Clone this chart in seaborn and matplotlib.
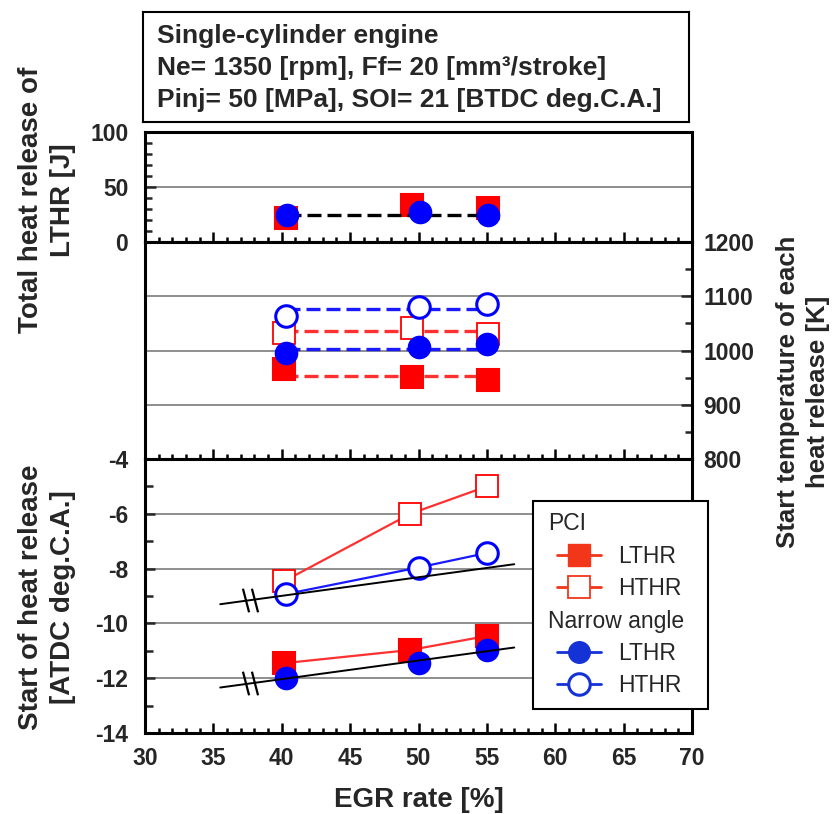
import numpy as np
import pandas as pd
import matplotlib
matplotlib.use("Agg")
import matplotlib.pyplot as plt
import seaborn as sns
from matplotlib.ticker import MultipleLocator
from matplotlib.lines import Line2D
from matplotlib.path import Path
from matplotlib.offsetbox import DrawingArea, HPacker

# ---------------- data ----------------
# top panel: total heat release of LTHR [J]
pci_x_total = [40.3, 49.5, 55.1]
pci_lthr_total = [21.5, 33.6, 31.2]
na_x_total = [40.4, 50.1, 55.1]
na_lthr_total = [24.2, 27.6, 24.2]
total_mean_x = [40.4, 55.1]
total_mean_y = [24.4, 24.4]

# middle panel: start temperature of each heat release [K]
pci_x_temp = [40.2, 49.5, 55.1]
pci_lthr_temp = [966, 952, 946]
pci_hthr_temp = [1033, 1042, 1031]
na_x_temp = [40.3, 50.0, 55.0]
na_lthr_temp = [996, 1006, 1012]
na_hthr_temp = [1063, 1080, 1085]
pci_lthr_temp_mean = [953, 953]
pci_hthr_temp_mean = [1036, 1036]
na_lthr_temp_mean = [1003, 1003]
na_hthr_temp_mean = [1076, 1076]

# bottom panel: start of heat release [ATDC deg.C.A.]
pci_x_soh = [40.2, 49.4, 55.0]
pci_lthr_soh = [-11.45, -10.97, -10.46]
pci_hthr_soh = [-8.45, -6.0, -5.0]
na_x_soh = [40.3, 50.0, 55.0]
na_lthr_soh = [-12.0, -11.45, -10.97]
na_hthr_soh = [-8.93, -7.96, -7.43]
trend_x = [35.5, 57.0]
trend_hthr = [-9.3, -7.84]
trend_lthr = [-12.34, -10.88]
break_x = 37.7

title_lines = ["Single-cylinder engine",
               "Ne= 1350 [rpm], Ff= 20 [mm\u00b3/stroke]",
               "Pinj= 50 [MPa], SOI= 21 [BTDC deg.C.A.]"]
legend_labels = ["PCI", "LTHR", "HTHR", "Narrow angle", "LTHR", "HTHR"]

RED = "#ff0000"
RED_L = "#ff3030"
BLUE = "#0000ff"
BLUE_L = "#1a1aff"
LEG_RED = "#f2361a"
LEG_BLUE = "#1432d6"

# ---------------- style ----------------
sns.set_theme(style="white")
plt.rcParams["font.family"] = ["Liberation Sans", "DejaVu Sans"]
plt.rcParams["axes.edgecolor"] = "black"
plt.rcParams["axes.linewidth"] = 2.2
plt.rcParams["axes.unicode_minus"] = False

TICK_FS = 16.5
LAB_FS = 20

fig = plt.figure(figsize=(8.4, 8.14), dpi=100)
W, H = 840.0, 814.0


def add_ax(top_px, bot_px):
    return fig.add_axes([145 / W, 1 - bot_px / H, (692 - 145) / W, (bot_px - top_px) / H])


ax1 = add_ax(132, 242)
ax2 = add_ax(242, 459)
ax3 = add_ax(459, 733)

for ax in (ax1, ax2, ax3):
    ax.set_xlim(30, 70)
    ax.xaxis.set_major_locator(MultipleLocator(5))
    ax.xaxis.set_minor_locator(MultipleLocator(1))
    ax.tick_params(axis="x", which="both", direction="in", bottom=True, top=False,
                   labelbottom=False, width=1.8, color="black")
    ax.tick_params(axis="x", which="major", length=7)
    ax.tick_params(axis="x", which="minor", length=3.6)
    ax.set_facecolor("white")
    for s in ax.spines.values():
        s.set_linewidth(2.2)
        s.set_color("black")
    ax.set_xlabel("")
    ax.set_ylabel("")

# top panel axes
ax1.set_ylim(0, 100)
ax1.yaxis.set_major_locator(MultipleLocator(50))
ax1.yaxis.set_minor_locator(MultipleLocator(10))
ax1.tick_params(axis="y", which="both", direction="in", left=True, right=False,
                width=1.8, pad=12, labelsize=TICK_FS)
ax1.tick_params(axis="y", which="major", length=8)
ax1.tick_params(axis="y", which="minor", length=5)
for v in (50,):
    ax1.axhline(v, color="#707070", lw=1.1, zorder=0.5)

# middle panel axes (right scale)
ax2.set_ylim(800, 1200)
ax2.yaxis.tick_right()
ax2.yaxis.set_major_locator(MultipleLocator(100))
ax2.yaxis.set_minor_locator(MultipleLocator(50))
ax2.tick_params(axis="y", which="both", direction="in", left=False, right=True,
                labelleft=False, labelright=True, width=1.8, pad=8, labelsize=TICK_FS)
ax2.tick_params(axis="y", which="major", length=8)
ax2.tick_params(axis="y", which="minor", length=5)
for v in (900, 1000, 1100):
    ax2.axhline(v, color="#707070", lw=1.1, zorder=0.5)

# bottom panel axes
ax3.set_ylim(-14, -4)
ax3.yaxis.set_major_locator(MultipleLocator(2))
ax3.yaxis.set_minor_locator(MultipleLocator(1))
ax3.tick_params(axis="y", which="both", direction="in", left=True, right=False,
                width=1.8, pad=12, labelsize=TICK_FS)
ax3.tick_params(axis="y", which="major", length=7)
ax3.tick_params(axis="y", which="minor", length=6)
ax3.tick_params(axis="x", labelbottom=True, labelsize=TICK_FS, pad=10)
for v in (-6, -8, -10, -12):
    ax3.axhline(v, color="#707070", lw=1.1, zorder=0.5)

for ax in (ax1, ax2, ax3):
    for lab in ax.get_xticklabels() + ax.get_yticklabels():
        lab.set_fontweight("bold")

MS = 15.5


def pts(ax, x, y, marker, fc, ec, mew=1.5, z=3):
    sns.lineplot(x=x, y=y, ax=ax, linestyle="none", marker=marker, markersize=MS,
                 markerfacecolor=fc, markeredgecolor=ec, markeredgewidth=mew,
                 estimator=None, sort=False, legend=False, zorder=z)


def line(ax, x, y, color, lw=2.0, dashed=False, z=2):
    kw = dict(dashes=(4.2, 1.8)) if dashed else {}
    sns.lineplot(x=x, y=y, ax=ax, color=color, lw=lw, estimator=None, sort=False,
                 legend=False, zorder=z, **kw)


# ---- top panel ----
pts(ax1, pci_x_total, pci_lthr_total, "s", RED, RED)
line(ax1, total_mean_x, total_mean_y, "black", lw=2.4, dashed=True, z=3.5)
pts(ax1, na_x_total, na_lthr_total, "o", BLUE, BLUE, z=4)

# ---- middle panel ----
line(ax2, [na_x_temp[0], na_x_temp[-1]], na_hthr_temp_mean, BLUE_L, lw=2.4, dashed=True)
line(ax2, [pci_x_temp[0], pci_x_temp[-1]], pci_hthr_temp_mean, RED_L, lw=2.4, dashed=True)
line(ax2, [na_x_temp[0], na_x_temp[-1]], na_lthr_temp_mean, BLUE_L, lw=2.4, dashed=True)
line(ax2, [pci_x_temp[0], pci_x_temp[-1]], pci_lthr_temp_mean, RED_L, lw=2.4, dashed=True)
pts(ax2, pci_x_temp, pci_hthr_temp, "s", "white", RED, mew=1.3)
pts(ax2, na_x_temp, na_hthr_temp, "o", "white", BLUE, mew=2.2)
pts(ax2, pci_x_temp, pci_lthr_temp, "s", RED, RED)
pts(ax2, na_x_temp, na_lthr_temp, "o", BLUE, BLUE)

# ---- bottom panel ----
line(ax3, pci_x_soh, pci_hthr_soh, RED_L, lw=1.6)
line(ax3, na_x_soh, na_hthr_soh, BLUE_L, lw=1.6)
line(ax3, pci_x_soh, pci_lthr_soh, RED_L, lw=1.6)
pts(ax3, pci_x_soh, pci_hthr_soh, "s", "white", RED, mew=1.3)
pts(ax3, na_x_soh, na_hthr_soh, "o", "white", BLUE, mew=2.2)
pts(ax3, pci_x_soh, pci_lthr_soh, "s", RED, RED)
pts(ax3, na_x_soh, na_lthr_soh, "o", BLUE, BLUE)
line(ax3, trend_x, trend_hthr, "black", lw=1.4, z=5)
line(ax3, trend_x, trend_lthr, "black", lw=1.4, z=5)

brk = Path([(-0.32, 0.5), (-0.06, -0.5), (0.06, 0.5), (0.32, -0.5)],
           [Path.MOVETO, Path.LINETO, Path.MOVETO, Path.LINETO])
for ty in (trend_hthr, trend_lthr):
    by = float(np.interp(break_x, trend_x, ty))
    ax3.plot([break_x], [by], marker=brk, markersize=17, markeredgecolor="black",
             markerfacecolor="none", markeredgewidth=1.6, linestyle="none", zorder=6)

ax3.set_xlabel("EGR rate [%]", fontsize=LAB_FS, fontweight="bold", labelpad=12)

# ---- y labels ----
fig.text(47.5 / W, 1 - 200 / H, "Total heat release of\nLTHR [J]", rotation=90,
         ha="center", va="center", fontsize=LAB_FS, fontweight="bold",
         multialignment="center", linespacing=1.3)
fig.text(47.5 / W, 1 - 597 / H, "Start of heat release\n[ATDC deg.C.A.]", rotation=90,
         ha="center", va="center", fontsize=LAB_FS, fontweight="bold",
         multialignment="center", linespacing=1.3)
fig.text(803 / W, 1 - 392 / H, "Start temperature of each\nheat release [K]", rotation=90,
         ha="center", va="center", fontsize=18.5, fontweight="bold",
         multialignment="center", linespacing=1.35)

# ---- title box ----
tb = fig.add_axes([143 / W, 1 - 122 / H, 546 / W, 110 / H])
tb.set_xticks([])
tb.set_yticks([])
tb.set_facecolor("white")
for s in tb.spines.values():
    s.set_linewidth(1.5)
    s.set_color("black")
for t, yc in zip(title_lines, (36.5, 68.0, 100.0)):
    tb.text(14 / 546, (122 - yc) / 110, t, transform=tb.transAxes, ha="left",
            va="center", fontsize=19, fontweight="bold")

# ---- legend ----
handles = [
    Line2D([], [], alpha=0),
    Line2D([], [], color=LEG_RED, lw=2, marker="s", ms=MS, mfc=LEG_RED, mec=LEG_RED),
    Line2D([], [], color=LEG_RED, lw=2, marker="s", ms=MS, mfc="white", mec=LEG_RED, mew=1.3),
    Line2D([], [], alpha=0),
    Line2D([], [], color=LEG_BLUE, lw=2, marker="o", ms=MS, mfc=LEG_BLUE, mec=LEG_BLUE),
    Line2D([], [], color=LEG_BLUE, lw=2, marker="o", ms=MS, mfc="white", mec=LEG_BLUE, mew=2.2),
]
leg = ax3.legend(handles, legend_labels, loc="upper left",
                 bbox_to_anchor=(533 / W, 1 - 711 / H, 175 / W, 210 / H),
                 bbox_transform=fig.transFigure, mode="expand",
                 fontsize=16.5, frameon=True, fancybox=False, framealpha=1,
                 edgecolor="black", borderpad=0.5, labelspacing=0.41,
                 handlelength=1.9, handletextpad=0.75, borderaxespad=0)
leg.get_frame().set_linewidth(1.5)
leg.set_zorder(10)
headers = {"PCI", "Narrow angle"}
sep_pt = 0.75 * 16.5
for vpack in leg._legend_handle_box.get_children():
    for hpack in vpack.get_children():
        ch = hpack.get_children()
        if len(ch) != 2:
            continue
        handle_box, text_box = ch
        txt = text_box.get_children()[0].get_text()
        if txt in headers:
            ch[:] = [DrawingArea(2.5, 0), text_box]
            hpack.sep = 0
        else:
            inner = HPacker(pad=0, sep=sep_pt, align="baseline",
                            children=[handle_box, text_box])
            ch[:] = [DrawingArea(9, 0), inner]
            hpack.sep = 0

fig.savefig("out.png", dpi=100)
